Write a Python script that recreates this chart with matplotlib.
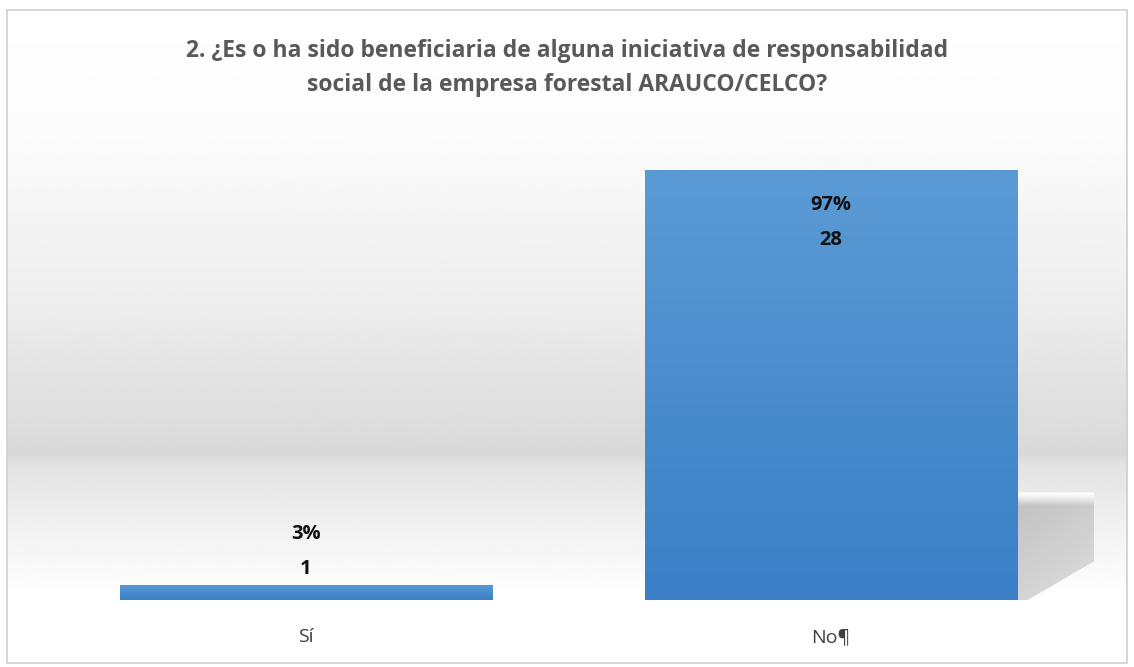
import numpy as np
import matplotlib.pyplot as plt
from matplotlib.patches import Rectangle, Polygon
from matplotlib.colors import LinearSegmentedColormap

categories = ["Sí", "No¶"]
counts = [1, 28]
percents = ["3%", "97%"]
title = "2. ¿Es o ha sido beneficiaria de alguna iniciativa de responsabilidad\nsocial de la empresa forestal ARAUCO/CELCO?"

plt.rcParams['font.family'] = ['Open Sans', 'DejaVu Sans']

fig = plt.figure(figsize=(11.34, 6.67), dpi=100)

# background panel with soft grey band
bg = fig.add_axes([0, 0, 1, 1], zorder=0)
bg.set_xlim(0, 1)
bg.set_ylim(0, 1)
bg.axis('off')
yy = np.linspace(0, 1, 400)
band = np.interp(yy, [0, 0.1, 0.2, 0.3, 0.32, 0.55, 0.8, 1.0],
                 [1.0, 1.0, 0.95, 0.89, 0.85, 0.93, 0.985, 1.0])
grad = np.tile(band[:, None], (1, 2))
bg.imshow(grad, extent=[0.006, 0.994, 0.006, 0.985], origin='lower',
          cmap='gray', vmin=0, vmax=1, aspect='auto')
bg.add_patch(Rectangle((0.006, 0.006), 0.988, 0.979, fill=False,
                       edgecolor='#d0d0d0', linewidth=1.2))

ax = fig.add_axes([43.5 / 1134, 67 / 667, 1050 / 1134, 461 / 667], zorder=1)
ax.patch.set_alpha(0)
x = np.arange(len(categories))
width = 0.71
bars = ax.bar(x, counts, width=width, color='none', edgecolor='none')
ax.set_xlim(-0.5, 1.5)
ax.set_ylim(0, 30)

blue = LinearSegmentedColormap.from_list('b', ['#3a7fc6', '#5b9bd5'])
ramp = np.linspace(0, 1, 256)[:, None]

# shadow behind the tall bar
big = bars[1]
bx = big.get_x() + big.get_width()
sw, st = 0.165, 7.0
shadow = Polygon([(bx, 0), (bx + 0.02, 0), (bx + sw, 2.9), (bx + sw, st), (bx, st)],
                 closed=True, facecolor='none', edgecolor='none')
ax.add_patch(shadow)
gx = np.linspace(0, 1, 80)[None, :]
gy = np.linspace(0, 1, 120)[:, None]
shade = 0.36 * np.clip((1 - gy) / 0.12, 0, 1) * (1 - 0.15 * gx) * (0.75 + 0.25 * gy)
sh = ax.imshow(shade, extent=[bx, bx + sw, 0, st], origin='lower',
               cmap='Greys', vmin=0, vmax=1, aspect='auto', zorder=1)
sh.set_clip_path(shadow)

for b in bars:
    im = ax.imshow(ramp, extent=[b.get_x(), b.get_x() + b.get_width(), 0, b.get_height()],
                   origin='lower', cmap=blue, aspect='auto', zorder=2)
    clip = Rectangle((b.get_x(), 0), b.get_width(), b.get_height(),
                     facecolor='none', edgecolor='none')
    ax.add_patch(clip)
    im.set_clip_path(clip)

ax.set_xlim(-0.5, 1.5)
ax.set_ylim(0, 30)

for i, (c, p) in enumerate(zip(counts, percents)):
    if c > 5:
        top, low = c - 2.3, c - 4.6
    else:
        top, low = c + 3.3, c + 1.0
    ax.text(x[i], top, p, ha='center', va='center', fontsize=14.5,
            fontweight='bold', color='#111111', zorder=3)
    ax.text(x[i], low, str(c), ha='center', va='center', fontsize=14.5,
            fontweight='bold', color='#111111', zorder=3)

ax.set_xticks(x)
ax.set_xticklabels(categories, fontsize=14, color='#404040')
ax.tick_params(axis='x', length=0, pad=20)
ax.set_yticks([])
for s in ax.spines.values():
    s.set_visible(False)

fig.text(0.5, 0.898, title, ha='center', va='center', fontsize=16.5,
         fontweight='bold', color='#595959', linespacing=1.6)

fig.savefig('out.png', dpi=100)
